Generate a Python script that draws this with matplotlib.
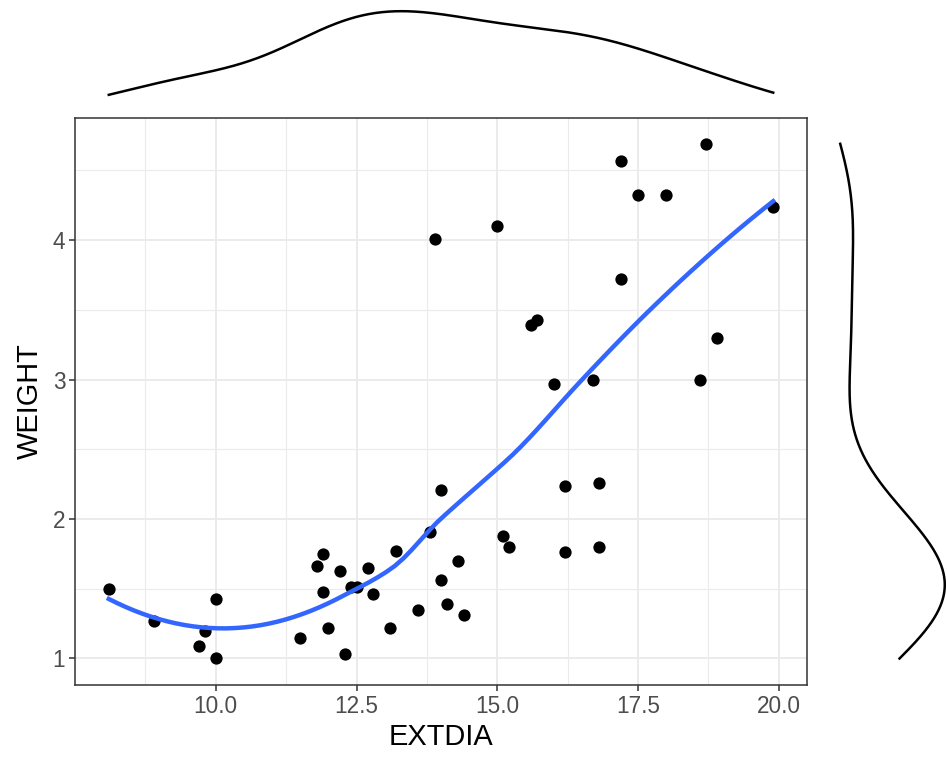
import matplotlib
matplotlib.use("Agg")
import matplotlib.pyplot as plt
import numpy as np

plt.rcParams["font.family"] = ["Liberation Sans", "DejaVu Sans"]

# external diameter vs weight
extdia = [8.1, 8.9, 9.7, 9.8, 10.0, 10.0, 11.5, 11.8, 11.9, 11.9, 12.0, 12.2,
          12.3, 12.4, 12.5, 12.7, 12.8, 13.1, 13.2, 13.6, 13.8, 13.9, 14.0,
          14.0, 14.1, 14.3, 14.4, 15.0, 15.1, 15.2, 15.6, 15.7, 16.0, 16.2,
          16.2, 16.7, 16.8, 16.8, 17.2, 17.2, 17.5, 18.0, 18.6, 18.7, 18.9,
          19.9]
weight = [1.50, 1.27, 1.09, 1.20, 1.43, 1.00, 1.15, 1.66, 1.75, 1.48, 1.22,
          1.63, 1.03, 1.51, 1.51, 1.65, 1.46, 1.22, 1.77, 1.35, 1.91, 4.01,
          2.21, 1.56, 1.39, 1.70, 1.31, 4.10, 1.88, 1.80, 3.39, 3.43, 2.97,
          2.24, 1.76, 3.00, 2.26, 1.80, 4.57, 3.72, 4.32, 4.32, 3.00, 4.69,
          3.30, 4.24]

x_ticks = [10.0, 12.5, 15.0, 17.5, 20.0]
y_ticks = [1, 2, 3, 4]


def local_fit(x, y, x0, q):
    """weighted local quadratic at x0 -> (value, slope)."""
    d = np.abs(x - x0)
    h = np.sort(d)[q - 1]
    w = np.clip(1 - (d / h) ** 3, 0, None) ** 3
    X = np.column_stack([np.ones_like(x), x - x0, (x - x0) ** 2])
    sw = np.sqrt(w)
    beta = np.linalg.lstsq(X * sw[:, None], y * sw, rcond=None)[0]
    return beta[0], beta[1]


def loess(x, y, grid, span=0.75, cell=0.2):
    """loess with kd-tree vertices and cubic hermite interpolation."""
    x = np.asarray(x, float)
    y = np.asarray(y, float)
    n = len(x)
    q = int(np.floor(n * span))
    fc = int(np.floor(n * span * cell))
    xs = np.sort(x)
    mu = 0.005 * (xs[-1] - xs[0])
    lo, hi = xs[0] - mu, xs[-1] + mu
    verts = {lo, hi}

    def split(l, u, vlo, vhi):
        if u - l + 1 <= fc:
            return
        m = (l + u) // 2
        v = (xs[m] + xs[m + 1]) / 2 if m + 1 <= u else xs[m]
        if v <= vlo or v >= vhi:
            return
        verts.add(v)
        split(l, m, vlo, v)
        split(m + 1, u, v, vhi)

    split(0, n - 1, lo, hi)
    vx = np.array(sorted(verts))
    fits = np.array([local_fit(x, y, v, q) for v in vx])
    vy, vs = fits[:, 0], fits[:, 1]

    out = []
    for g in grid:
        i = np.clip(np.searchsorted(vx, g) - 1, 0, len(vx) - 2)
        x0, x1 = vx[i], vx[i + 1]
        h = x1 - x0
        t = (g - x0) / h
        h00 = 2 * t**3 - 3 * t**2 + 1
        h10 = t**3 - 2 * t**2 + t
        h01 = -2 * t**3 + 3 * t**2
        h11 = t**3 - t**2
        out.append(h00 * vy[i] + h10 * h * vs[i] + h01 * vy[i + 1] + h11 * h * vs[i + 1])
    return np.array(out)


def kde(v, n=512):
    v = np.asarray(v, float)
    iqr = np.subtract(*np.percentile(v, [75, 25]))
    bw = 0.9 * min(v.std(ddof=1), iqr / 1.34) * len(v) ** -0.2
    g = np.linspace(v.min(), v.max(), n)
    dens = np.exp(-0.5 * ((g[:, None] - v[None, :]) / bw) ** 2).sum(1)
    return g, dens / (len(v) * bw * np.sqrt(2 * np.pi))


W, H = 947, 759
fig = plt.figure(figsize=(W / 100, H / 100), dpi=100)
ax = fig.add_axes([75 / W, (H - 685) / H, 732 / W, 567 / H])
ax_top = fig.add_axes([75 / W, (H - 99) / H, 732 / W, 92 / H])
ax_right = fig.add_axes([835 / W, (H - 685) / H, 115 / W, 567 / H])

grid_col = "#ebebeb"
ax.set_xlim(7.5, 20.5)
ax.set_ylim(0.81, 4.875)
ax.set_xticks(x_ticks)
ax.set_xticks([8.75, 11.25, 13.75, 16.25, 18.75], minor=True)
ax.set_yticks(y_ticks)
ax.set_yticks([1.5, 2.5, 3.5, 4.5], minor=True)
ax.set_xticklabels([f"{t:.1f}" for t in x_ticks])
ax.set_yticklabels([str(t) for t in y_ticks])
ax.grid(True, which="major", color=grid_col, lw=1.4)
ax.grid(True, which="minor", color=grid_col, lw=0.8)
ax.set_axisbelow(True)
for s in ax.spines.values():
    s.set_color("#333333")
    s.set_linewidth(1.1)
ax.tick_params(which="major", length=4, width=1.1, color="#333333",
               labelsize=16.3, labelcolor="#4d4d4d", pad=3)
ax.tick_params(which="minor", length=0)
ax.set_xlabel("EXTDIA", fontsize=20.9, labelpad=4)
ax.set_ylabel("WEIGHT", fontsize=20.9, labelpad=6)

ax.scatter(extdia, weight, s=78, color="black", zorder=3, linewidths=0)
xs = np.linspace(min(extdia), max(extdia), 80)
ax.plot(xs, loess(extdia, weight, xs), color="#3366ff", lw=3.2, zorder=4)

gx, dx = kde(extdia)
ax_top.plot(gx, dx, color="black", lw=1.8)
ax_top.set_xlim(ax.get_xlim())
ax_top.margins(y=0.05)
ax_top.axis("off")

gy, dy = kde(weight)
ax_right.plot(dy, gy, color="black", lw=1.8)
ax_right.set_ylim(ax.get_ylim())
ax_right.margins(x=0.05)
ax_right.axis("off")

fig.savefig("out.png", dpi=100)
